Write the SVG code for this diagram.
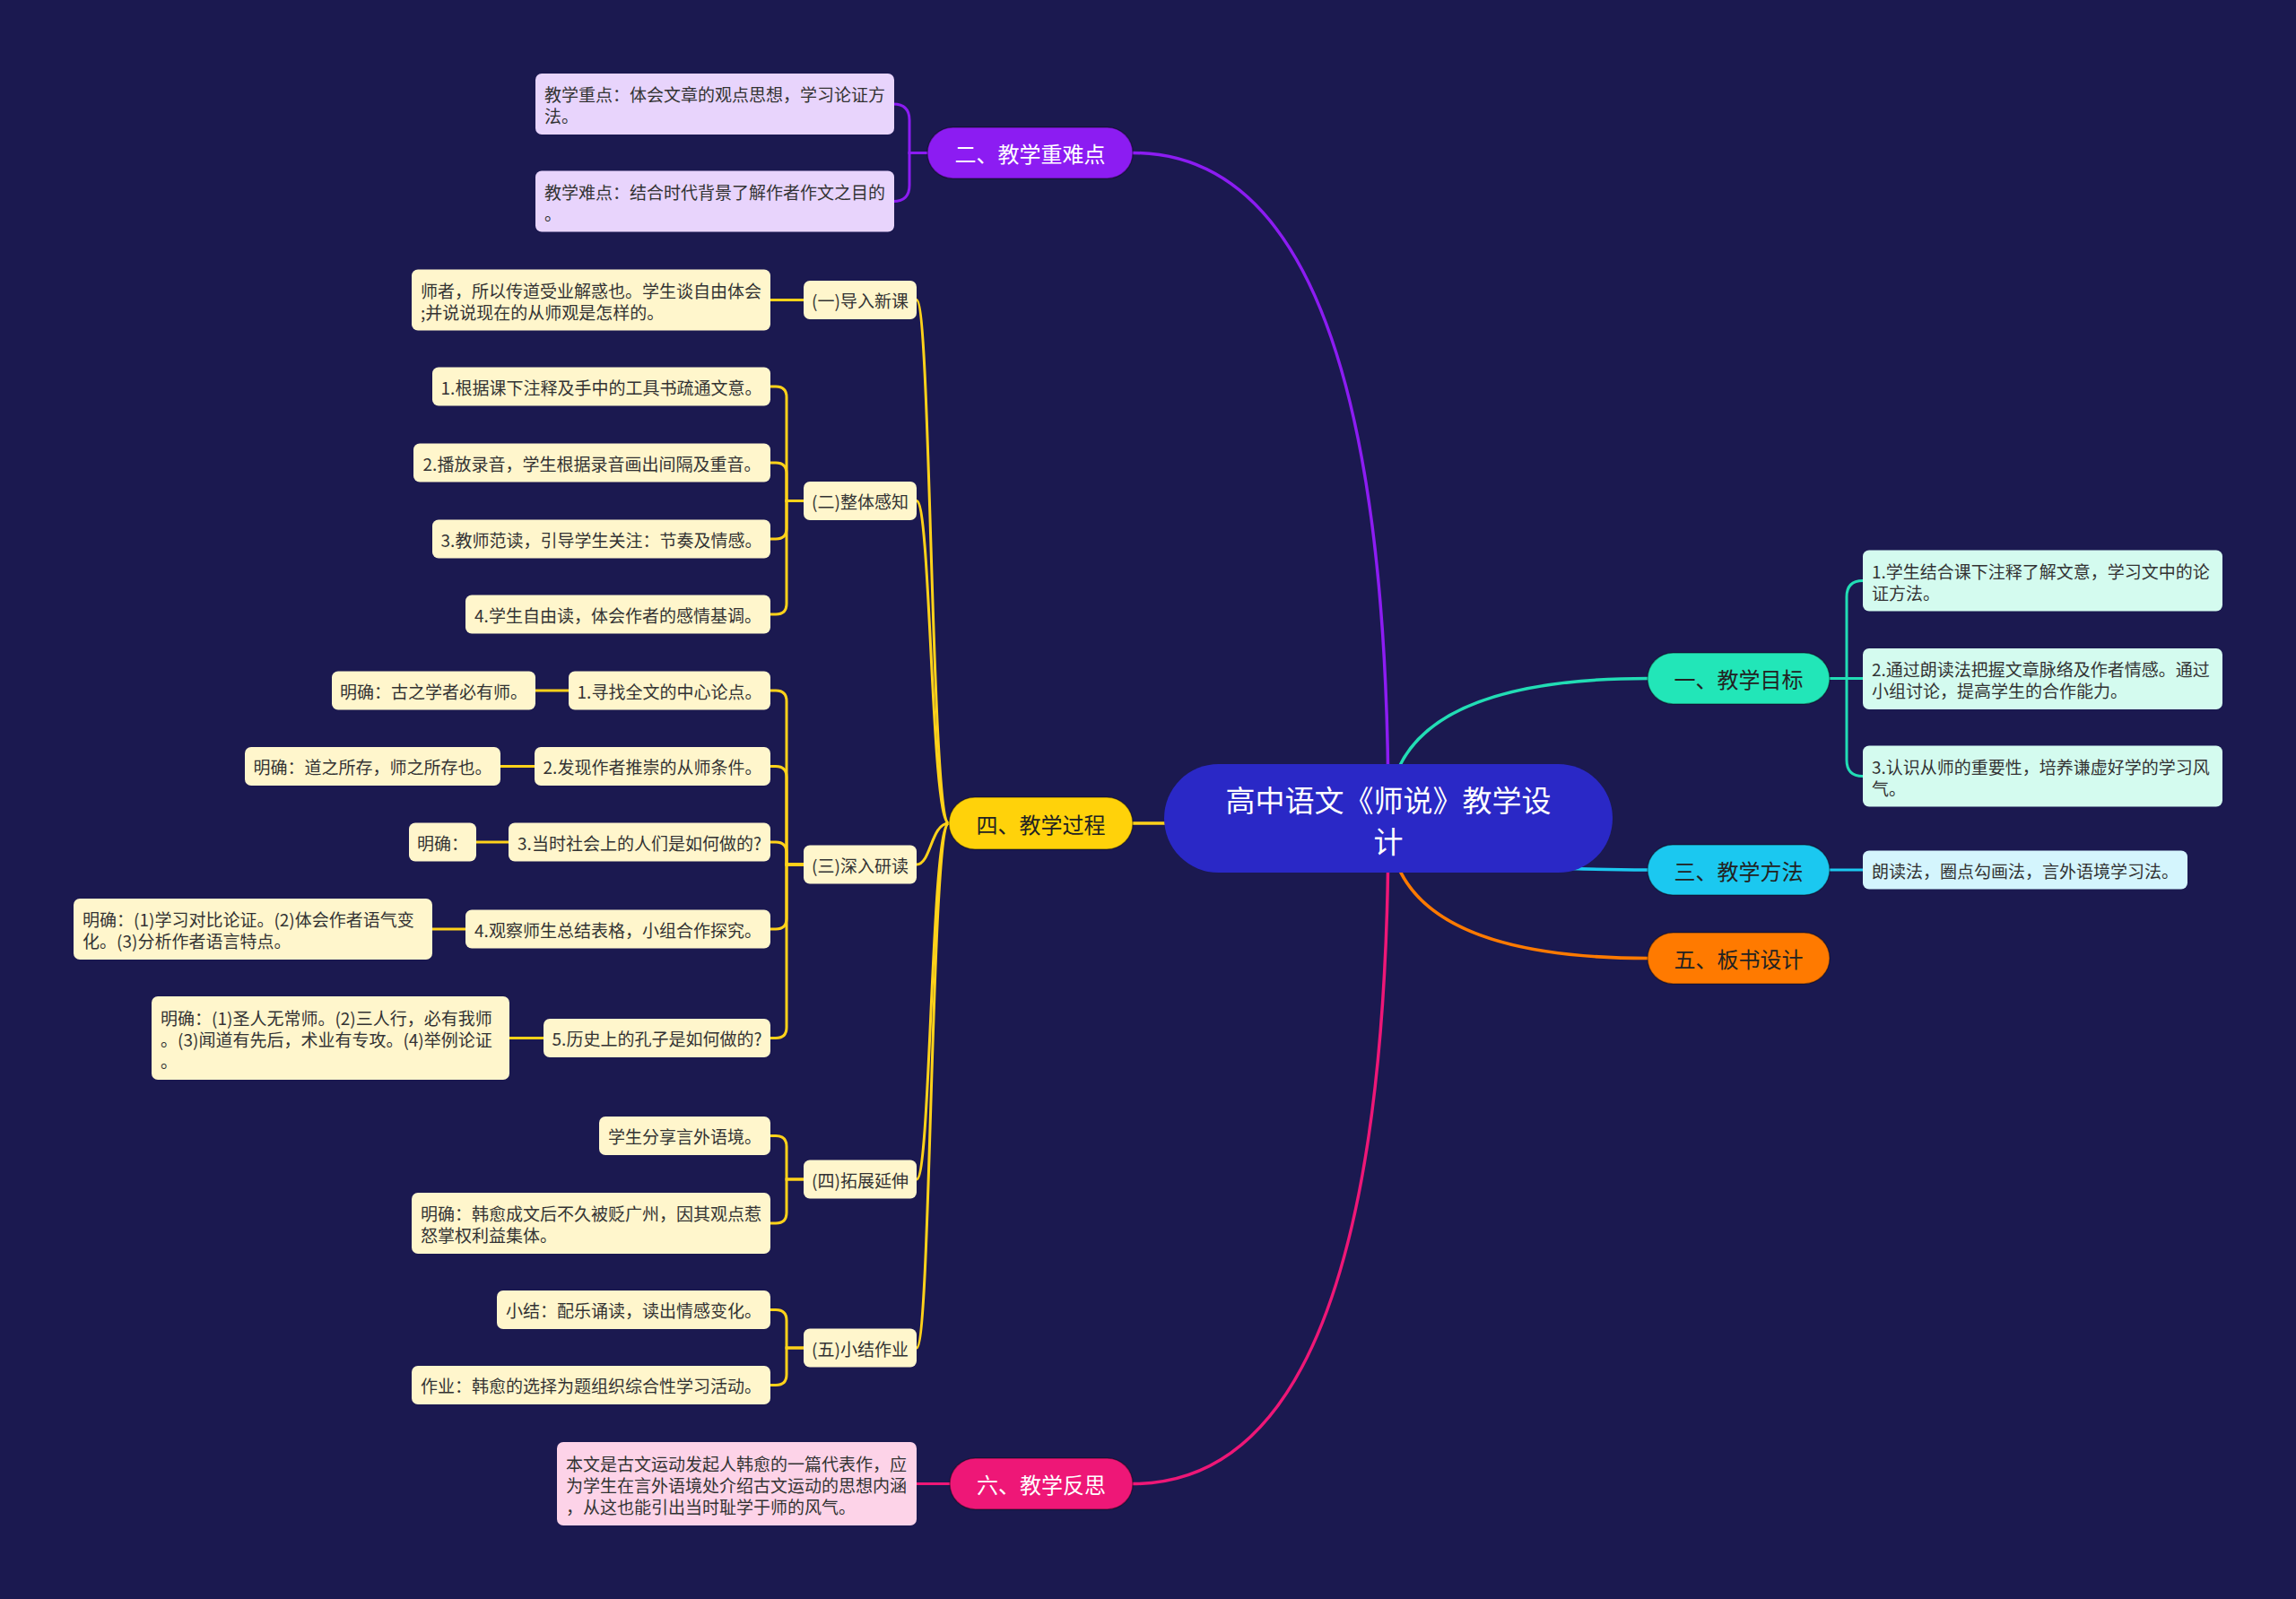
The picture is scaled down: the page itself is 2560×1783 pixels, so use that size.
<svg xmlns="http://www.w3.org/2000/svg" width="2560" height="1783" viewBox="0 0 2560 1783">
<style>
text{font-family:"Noto Sans CJK SC","Noto Sans",sans-serif;dominant-baseline:central}
.lt{font-size:19px;fill:#333}
.c{text-anchor:middle}
.mt{font-size:24px;text-anchor:middle}
.dk{fill:#222}
.wh{fill:#fff}
.cn{fill:none;stroke-width:3.5;stroke-linecap:round}
.sc{fill:none;stroke-width:3;stroke-linecap:round}
.y{stroke:#FFD21A}.p{stroke:#8C1CF2}.t{stroke:#22DDB5}.cy{stroke:#1BC8F0}.o{stroke:#FF7A00}.k{stroke:#EE1777}
.ly{fill:#FFF6CC}.lp{fill:#E8D4FC}.lm{fill:#D4FBEF}.lc{fill:#D4F5FD}.lk{fill:#FDD3E8}
.mn{stroke:rgba(0,0,0,0.35);stroke-width:1.5}
</style>
<rect width="2560" height="1783" fill="#1B1950"/>
<g id="connectors">
<path class="cn p" d="M1548 912 Q1548 170.5 1263 170.5"/>
<path class="cn y" d="M1548 918 L1263 918"/>
<path class="cn k" d="M1548 912 Q1548 1654.5 1263 1654.5"/>
<path class="cn t" d="M1548 912 Q1548 756.5 1838 756.5"/>
<path class="cn cy" d="M1548 912 Q1548 970 1838 970"/>
<path class="cn o" d="M1548 912 Q1548 1068.5 1838 1068.5"/>
<path class="sc p" d="M1034 170.5 H1014 V134 Q1014 116 996 116"/>
<path class="sc p" d="M1034 170.5 H1014 V206.5 Q1014 224.5 996 224.5"/>
<path class="sc t" d="M2040 756.5 H2059 V665.5 Q2059 647.5 2077 647.5"/>
<path class="sc t" d="M2040 756.5 H2077"/>
<path class="sc t" d="M2040 756.5 H2059 V847.5 Q2059 865.5 2077 865.5"/>
<path class="sc cy" d="M2040 970 H2077"/>
<path class="sc k" d="M1059 1654.5 H1022"/>
<path class="sc y" d="M1058 918 C1038 918 1038 334.5 1022 334.5"/>
<path class="sc y" d="M1058 918 C1038 918 1038 558.5 1022 558.5"/>
<path class="sc y" d="M1058 918 C1038 918 1038 964 1022 964"/>
<path class="sc y" d="M1058 918 C1038 918 1038 1315 1022 1315"/>
<path class="sc y" d="M1058 918 C1038 918 1038 1503 1022 1503"/>
<path class="sc y" d="M896 334.5 H859"/>
<path class="sc y" d="M896 558.5 H877 V443 Q877 431 865 431 H859"/>
<path class="sc y" d="M896 558.5 H877 V528 Q877 516 865 516 H859"/>
<path class="sc y" d="M896 558.5 H877 V589 Q877 601 865 601 H859"/>
<path class="sc y" d="M896 558.5 H877 V673 Q877 685 865 685 H859"/>
<path class="sc y" d="M896 964 H877 V782 Q877 770 865 770 H859"/>
<path class="sc y" d="M896 964 H877 V866.5 Q877 854.5 865 854.5 H859"/>
<path class="sc y" d="M896 964 H877 V951 Q877 939 865 939 H859"/>
<path class="sc y" d="M896 964 H877 V1024 Q877 1036 865 1036 H859"/>
<path class="sc y" d="M896 964 H877 V1145.5 Q877 1157.5 865 1157.5 H859"/>
<path class="sc y" d="M634 770 H597"/>
<path class="sc y" d="M596 854.5 H558"/>
<path class="sc y" d="M567 939 H531"/>
<path class="sc y" d="M519 1036 H482"/>
<path class="sc y" d="M606 1157.5 H568"/>
<path class="sc y" d="M896 1315 H877 V1278.5 Q877 1266.5 865 1266.5 H859"/>
<path class="sc y" d="M896 1315 H877 V1352 Q877 1364 865 1364 H859"/>
<path class="sc y" d="M896 1503 H877 V1472.5 Q877 1460.5 865 1460.5 H859"/>
<path class="sc y" d="M896 1503 H877 V1532.5 Q877 1544.5 865 1544.5 H859"/>
</g>
<g id="root"><rect x="1298" y="852" width="500" height="121" rx="60.5" fill="#2A28C6"/>
<text class="wh" font-size="33" text-anchor="middle"><tspan x="1548" y="891">高中语文《师说》教学设</tspan><tspan x="1548" y="937">计</tspan></text></g>

<g id="b2"><rect class="mn" x="1034" y="142" width="229" height="57" rx="28.5" fill="#8C1CF2"/><text class="mt wh" x="1148.5" y="170.5">二、教学重难点</text></g>
<g id="b4"><rect class="mn" x="1058" y="889" width="205" height="58" rx="29" fill="#FFD20A"/><text class="mt dk" x="1160.5" y="918">四、教学过程</text></g>
<g id="b6"><rect class="mn" x="1059" y="1626" width="204" height="57" rx="28.5" fill="#EE1777"/><text class="mt wh" x="1161" y="1654.5">六、教学反思</text></g>
<g id="b1"><rect class="mn" x="1837" y="728" width="203" height="57" rx="28.5" fill="#22E6B8"/><text class="mt dk" x="1938.5" y="756.5">一、教学目标</text></g>
<g id="b3"><rect class="mn" x="1837" y="942" width="203" height="56" rx="28" fill="#1BC8F0"/><text class="mt dk" x="1938.5" y="970">三、教学方法</text></g>
<g id="b5"><rect class="mn" x="1837" y="1040" width="203" height="57" rx="28.5" fill="#FF7A00"/><text class="mt dk" x="1938.5" y="1068.5">五、板书设计</text></g>

<g id="n2a"><rect class="lp" x="597" y="82" width="400" height="68" rx="7"/><text class="lt"><tspan x="607" y="104">教学重点：体会文章的观点思想，学习论证方</tspan><tspan x="607" y="128">法。</tspan></text></g>
<g id="n2b"><rect class="lp" x="597" y="190.5" width="400" height="68" rx="7"/><text class="lt"><tspan x="607" y="212.5">教学难点：结合时代背景了解作者作文之目的</tspan><tspan x="607" y="236.5">。</tspan></text></g>

<g id="n1a"><rect class="lm" x="2077" y="613.5" width="401" height="68" rx="7"/><text class="lt"><tspan x="2087" y="635.5">1.学生结合课下注释了解文意，学习文中的论</tspan><tspan x="2087" y="659.5">证方法。</tspan></text></g>
<g id="n1b"><rect class="lm" x="2077" y="723" width="401" height="68" rx="7"/><text class="lt"><tspan x="2087" y="745">2.通过朗读法把握文章脉络及作者情感。通过</tspan><tspan x="2087" y="769">小组讨论，提高学生的合作能力。</tspan></text></g>
<g id="n1c"><rect class="lm" x="2077" y="831.5" width="401" height="68" rx="7"/><text class="lt"><tspan x="2087" y="853.5">3.认识从师的重要性，培养谦虚好学的学习风</tspan><tspan x="2087" y="877.5">气。</tspan></text></g>
<g id="n3a"><rect class="lc" x="2077" y="948.5" width="362" height="43" rx="7"/><text class="lt c" x="2258" y="970">朗读法，圈点勾画法，言外语境学习法。</text></g>

<g id="s1"><rect class="ly" x="896" y="313" width="126" height="43" rx="7"/><text class="lt c" x="959" y="334.5">(一)导入新课</text></g>
<g id="s2"><rect class="ly" x="896" y="537" width="126" height="43" rx="7"/><text class="lt c" x="959" y="558.5">(二)整体感知</text></g>
<g id="s3"><rect class="ly" x="896" y="942.5" width="126" height="43" rx="7"/><text class="lt c" x="959" y="964">(三)深入研读</text></g>
<g id="s4"><rect class="ly" x="896" y="1293.5" width="126" height="43" rx="7"/><text class="lt c" x="959" y="1315">(四)拓展延伸</text></g>
<g id="s5"><rect class="ly" x="896" y="1481.5" width="126" height="43" rx="7"/><text class="lt c" x="959" y="1503">(五)小结作业</text></g>

<g id="l11"><rect class="ly" x="459" y="300.5" width="400" height="68" rx="7"/><text class="lt"><tspan x="469" y="322.5">师者，所以传道受业解惑也。学生谈自由体会</tspan><tspan x="469" y="346.5">;并说说现在的从师观是怎样的。</tspan></text></g>
<g id="l21"><rect class="ly" x="482" y="409.5" width="377" height="43" rx="7"/><text class="lt c" x="670.5" y="431">1.根据课下注释及手中的工具书疏通文意。</text></g>
<g id="l22"><rect class="ly" x="461" y="494.5" width="398" height="43" rx="7"/><text class="lt c" x="660" y="516">2.播放录音，学生根据录音画出间隔及重音。</text></g>
<g id="l23"><rect class="ly" x="482" y="579.5" width="377" height="43" rx="7"/><text class="lt c" x="670.5" y="601">3.教师范读，引导学生关注：节奏及情感。</text></g>
<g id="l24"><rect class="ly" x="519" y="663.5" width="340" height="43" rx="7"/><text class="lt c" x="689" y="685">4.学生自由读，体会作者的感情基调。</text></g>

<g id="l31"><rect class="ly" x="634" y="748.5" width="225" height="43" rx="7"/><text class="lt c" x="746.5" y="770">1.寻找全文的中心论点。</text></g>
<g id="l31a"><rect class="ly" x="370" y="748.5" width="227" height="43" rx="7"/><text class="lt c" x="483.5" y="770">明确：古之学者必有师。</text></g>
<g id="l32"><rect class="ly" x="596" y="833" width="263" height="43" rx="7"/><text class="lt c" x="727.5" y="854.5">2.发现作者推崇的从师条件。</text></g>
<g id="l32a"><rect class="ly" x="273" y="833" width="285" height="43" rx="7"/><text class="lt c" x="415.5" y="854.5">明确：道之所存，师之所存也。</text></g>
<g id="l33"><rect class="ly" x="567" y="917.5" width="292" height="43" rx="7"/><text class="lt c" x="713" y="939">3.当时社会上的人们是如何做的?</text></g>
<g id="l33a"><rect class="ly" x="456" y="917.5" width="75" height="43" rx="7"/><text class="lt c" x="493.5" y="939">明确：</text></g>
<g id="l34"><rect class="ly" x="519" y="1014.5" width="340" height="43" rx="7"/><text class="lt c" x="689" y="1036">4.观察师生总结表格，小组合作探究。</text></g>
<g id="l34a"><rect class="ly" x="82" y="1002" width="400" height="68" rx="7"/><text class="lt"><tspan x="92" y="1024">明确：(1)学习对比论证。(2)体会作者语气变</tspan><tspan x="92" y="1048">化。(3)分析作者语言特点。</tspan></text></g>
<g id="l35"><rect class="ly" x="606" y="1136" width="253" height="43" rx="7"/><text class="lt c" x="732.5" y="1157.5">5.历史上的孔子是如何做的?</text></g>
<g id="l35a"><rect class="ly" x="169" y="1111" width="399" height="93" rx="7"/><text class="lt"><tspan x="179" y="1133.5">明确：(1)圣人无常师。(2)三人行，必有我师</tspan><tspan x="179" y="1157.5">。(3)闻道有先后，术业有专攻。(4)举例论证</tspan><tspan x="179" y="1181.5">。</tspan></text></g>

<g id="l41"><rect class="ly" x="668" y="1245" width="191" height="43" rx="7"/><text class="lt c" x="763.5" y="1266.5">学生分享言外语境。</text></g>
<g id="l42"><rect class="ly" x="459" y="1330" width="400" height="68" rx="7"/><text class="lt"><tspan x="469" y="1352">明确：韩愈成文后不久被贬广州，因其观点惹</tspan><tspan x="469" y="1376">怒掌权利益集体。</tspan></text></g>
<g id="l51"><rect class="ly" x="554" y="1439" width="305" height="43" rx="7"/><text class="lt c" x="706.5" y="1460.5">小结：配乐诵读，读出情感变化。</text></g>
<g id="l52"><rect class="ly" x="459" y="1523" width="400" height="43" rx="7"/><text class="lt c" x="659" y="1544.5">作业：韩愈的选择为题组织综合性学习活动。</text></g>

<g id="n6a"><rect class="lk" x="621" y="1608" width="401" height="93" rx="7"/><text class="lt"><tspan x="631" y="1630.5">本文是古文运动发起人韩愈的一篇代表作，应</tspan><tspan x="631" y="1654.5">为学生在言外语境处介绍古文运动的思想内涵</tspan><tspan x="631" y="1678.5">，从这也能引出当时耻学于师的风气。</tspan></text></g>
</svg>
